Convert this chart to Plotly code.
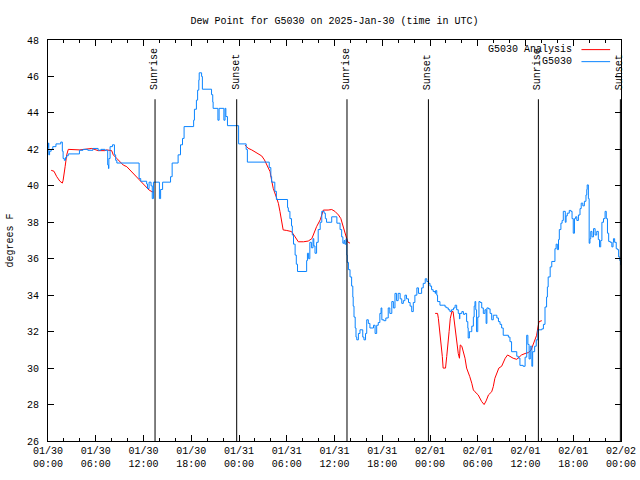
import pandas as pd
import plotly.graph_objects as go

# ---------------- data ----------------
START = "2025-01-30 00:00"

# Observed dew point (G5030), hours since start / degrees F
obs_hours = [0.0, 0.05, 0.1, 0.2, 0.4, 0.6, 1.0, 1.4, 1.6, 1.8, 1.9, 2.05, 2.2, 2.35, 2.55,
             3.95, 4.4, 5.0, 5.65, 6.3, 6.65, 7.15, 7.5, 7.6, 7.65, 7.8, 8.1, 8.35, 8.5, 8.65,
             11.45, 11.65, 12.4, 12.5, 12.7, 12.95, 13.1, 13.25, 14.0, 14.15, 14.4, 15.4, 15.6,
             16.35, 16.65, 16.9, 17.1, 18.3, 18.4, 18.65, 18.8, 18.95, 19.0, 19.3, 19.4,
             20.55, 20.7, 20.75, 21.35, 21.5, 22.1, 22.25, 22.35, 22.55, 23.95, 24.9, 25.05,
             27.8, 28.0, 28.1, 28.5, 28.7, 30.1, 30.2, 30.4, 30.6, 30.7, 30.85, 31.05, 31.2, 31.35,
             32.5, 32.6, 32.75, 32.9, 33.1, 33.3, 33.4, 33.55, 33.75, 33.95, 34.2, 34.4, 34.7,
             34.85, 35.0, 35.65, 36.3, 36.7, 36.9, 37.05, 37.2, 37.3, 37.45, 37.55, 37.6, 37.75,
             37.95, 38.15, 38.3, 38.35, 38.45, 38.6, 38.7, 38.8, 39.0, 39.2, 39.55, 39.7, 39.9,
             40.05, 40.25, 40.45, 40.9, 41.1, 41.3, 41.5, 41.7, 41.85, 41.95, 42.2, 42.45, 42.75,
             42.95, 43.2, 43.4, 43.6, 43.8, 44.0, 44.25, 44.45, 44.65, 44.85, 45.05, 45.3, 45.5,
             45.7, 45.9, 46.1, 46.35, 46.55, 46.75, 46.95, 47.15, 47.4, 47.6, 47.8, 48.0, 48.2,
             48.4, 48.65, 48.7, 48.85, 48.95, 49.25, 49.65, 49.9, 50.1, 50.3, 50.5, 50.7, 50.95,
             51.15, 51.35, 51.55, 51.7, 51.75, 52.0, 52.2, 52.4, 52.6, 52.75, 52.8, 52.95, 53.1,
             53.25, 53.45, 53.55, 53.65, 53.75, 53.85, 54.0, 54.15, 54.3, 54.5, 54.7, 54.9, 55.05,
             55.15, 55.35, 55.55, 55.75, 55.95, 56.2, 56.4, 56.6, 56.8, 57.0, 57.2, 57.85, 58.05,
             58.25, 58.9, 59.1, 59.3, 59.7, 59.95, 60.15, 60.3, 60.45, 60.6, 60.8, 60.9, 61.15,
             61.35, 61.55, 62.05, 62.25, 62.45, 62.65, 62.75, 62.85, 63.1, 63.3, 63.7, 63.85,
             64.0, 64.15, 64.25, 64.45, 64.6, 64.75, 65.0, 65.1, 65.25, 65.5, 65.7, 65.85, 66.0,
             66.15, 66.3, 66.45, 66.65, 66.85, 67.0, 67.2, 67.4, 67.6, 67.7, 67.75, 67.9, 68.0,
             68.1, 68.2, 68.35, 68.55, 68.75, 68.95, 69.15, 69.3, 69.45, 69.6, 69.8, 70.0, 70.15,
             70.3, 70.45, 70.65, 70.85, 71.0, 71.05, 71.2, 71.4, 71.55, 71.7, 71.85, 71.95]
obs_values = [42.1, 42.35, 41.7, 41.9, 42.0, 42.15, 42.3, 42.3, 42.4, 41.9, 41.5, 41.4, 41.55, 41.65, 41.75,
              41.95, 42.0, 41.95, 42.05, 41.95, 42.0, 41.95, 41.15, 40.95, 41.5, 42.15, 42.25, 41.7, 41.4, 41.25,
              40.4, 40.25, 40.1, 39.85, 40.2, 40.0, 39.3, 40.2, 39.3, 39.8, 40.2, 40.5, 41.25,
              41.7, 42.25, 42.6, 43.25, 43.6, 44.2, 44.7, 45.25, 45.8, 46.2, 46.0, 45.3,
              45.0, 44.6, 44.25, 43.6, 44.25, 43.6, 44.25, 43.8, 43.3, 42.3, 42.0, 41.3,
              41.0, 40.5, 40.2, 39.7, 39.25, 38.8, 38.6, 38.2, 37.8, 37.3, 36.8, 36.2, 35.7, 35.3,
              35.9, 36.3, 36.0, 36.9, 36.6, 37.1, 36.7, 36.3, 36.9, 37.6, 38.0, 38.6, 38.5,
              38.2, 38.0, 38.3, 37.95, 37.6, 37.2, 36.85, 37.0, 36.8, 37.1, 36.2, 35.8, 35.4,
              35.0, 34.5, 33.9, 33.4, 32.8, 32.2, 31.7, 31.55, 31.9, 32.1, 31.7, 31.55, 31.9,
              32.65, 32.45, 32.2, 32.35, 31.9, 32.35, 32.5, 33.0, 33.3, 32.65, 32.6, 32.75, 33.3,
              33.0, 33.65, 33.3, 34.1, 33.7, 34.1, 33.8, 33.55, 33.7, 34.0, 33.8, 33.6, 33.4,
              33.1, 33.6, 34.0, 34.4, 34.1, 34.1, 34.4, 34.65, 34.9, 34.75, 34.65, 34.5, 34.3,
              34.2, 34.1, 34.25, 34.0, 33.65, 33.45, 33.45, 33.35, 33.3, 33.2, 33.1, 33.2, 33.3,
              33.45, 33.2, 33.0, 32.7, 33.0, 33.1, 32.95, 33.0, 32.55, 32.2, 31.65, 32.0, 32.0,
              32.3, 32.8, 33.4, 33.65, 33.2, 32.0, 32.8, 33.65, 33.6, 33.3, 33.0, 33.2, 32.45,
              33.3, 33.25, 33.0, 32.65, 32.9, 32.9, 32.75, 32.55, 32.4, 32.2, 31.8, 31.7, 31.45,
              30.9, 30.65, 30.55, 30.15, 30.1, 30.6, 31.8, 31.3, 30.5, 31.2, 30.1, 30.9, 31.2,
              31.55, 32.1, 32.15, 32.4, 33.35, 33.9, 34.45, 35.0, 35.55, 35.85, 36.55, 36.8,
              36.5, 37.05, 37.6, 37.95, 38.1, 38.6, 38.0, 38.35, 38.5, 38.65, 38.6, 38.2, 37.4,
              38.2, 38.3, 38.1, 38.4, 38.75, 39.05, 38.9, 39.15, 39.5, 39.8, 40.05, 39.3, 36.85,
              37.1, 37.5, 37.2, 37.65, 37.3, 37.5, 37.05, 36.65, 37.0, 38.0, 38.2, 38.6, 38.2,
              37.4, 36.95, 36.9, 36.65, 36.9, 37.1, 36.9, 36.55, 36.5, 36.1, 35.9, 35.65, 36.0]

# Analysis dew point (G5030 Analysis); None marks gaps between runs
ana_hours = [0.4, 0.75, 1.1, 1.5, 1.8, 1.9, 2.15, 2.35, 2.55, 4.0, 5.5, 6.3, 7.15, 7.35, 8.0, 8.2,
             8.65, 9.05, 9.45, 9.9, 10.3, 10.7, 11.15, 11.55, 12.0, 12.4, 12.7, 13.05, 13.3,
             18.0,
             24.75, 25.15, 25.6, 26.0, 26.45, 26.85, 27.2, 27.5, 27.9, 28.1, 28.3, 28.75, 28.95,
             29.15, 29.35, 29.55, 30.0, 30.6, 31.05, 31.45, 32.1, 32.7, 33.15, 33.55, 33.75, 34.2,
             34.45, 34.6, 35.2, 35.65, 36.05, 36.5, 36.8, 37.05, 37.25, 37.45, 37.65, 37.95,
             43.0,
             48.65, 48.95, 49.05, 49.25, 49.4, 49.55, 49.65, 49.95, 50.1, 50.25, 50.4, 50.55,
             50.75, 50.9, 51.05, 51.25, 51.35, 51.55, 51.7, 51.8, 52.0, 52.2, 52.4, 52.6, 52.8,
             53.0, 53.25, 53.45, 53.65, 54.05, 54.5, 54.8, 55.05, 55.35, 55.75, 55.95, 56.15,
             56.4, 56.65, 57.0, 57.2, 57.45, 57.75, 58.05, 58.45, 58.9, 59.2, 59.5, 59.95, 60.35,
             60.7, 61.0, 61.2, 61.4, 61.55, 61.7, 62.05]
ana_values = [40.85, 40.8, 40.5, 40.25, 40.15, 40.3, 41.05, 41.7, 42.0, 41.97, 42.05, 41.93, 41.93,
              41.97, 41.93, 41.7, 41.5, 41.32, 41.14, 41.05, 40.87, 40.7, 40.5, 40.3, 40.14, 39.95,
              39.77, 39.68, 39.65,
              None,
              42.24, 42.06, 41.97, 41.87, 41.75, 41.64, 41.42, 41.14, 40.78, 40.3, 39.86, 39.3,
              39.04, 38.58, 38.13, 37.58, 37.55, 37.49, 37.2, 36.93, 36.93, 36.97, 37.1, 37.58,
              37.76, 38.13, 38.5, 38.67, 38.67, 38.7, 38.6, 38.4, 38.2, 37.85, 37.5, 37.2, 36.93,
              36.85,
              None,
              33.0, 33.0, 32.73, 32.0, 31.18, 30.63, 30.0, 30.0, 30.63, 31.2, 32.0, 32.73, 33.1,
              33.1, 32.55, 32.0, 31.36, 30.8, 30.54, 31.27, 31.2, 30.9, 30.54, 30.0, 29.8, 29.53,
              29.17, 28.8, 28.7, 28.53, 28.16, 28.0, 28.2, 28.53, 28.7, 28.98, 29.44, 29.72, 30.0,
              30.1, 30.35, 30.54, 30.72, 30.63, 30.54, 30.48, 30.6, 30.72, 30.8, 30.85, 30.99,
              31.36, 31.55, 31.8, 32.2, 32.55, 32.6]

# Sun events (hours since start)
sun_hours = [13.45, 23.71, 37.57, 47.8, 61.62, 71.92]
sun_labels = ["Sunrise", "Sunset", "Sunrise", "Sunset", "Sunrise", "Sunset"]

series_names = ["G5030 Analysis", "G5030"]
series_colors = ["#ff0000", "#0a84ff"]

# ---------------- figure ----------------
base = pd.Timestamp(START)
def to_time(hours):
    return [None if h is None else base + pd.Timedelta(hours=h) for h in hours]

FONT = "Liberation Mono"
fig = go.Figure()
fig.add_trace(go.Scatter(x=to_time(ana_hours), y=ana_values, mode="lines",
                         name=series_names[0], connectgaps=False,
                         line=dict(color=series_colors[0], width=1)))
fig.add_trace(go.Scatter(x=to_time(obs_hours), y=obs_values, mode="lines",
                         name=series_names[1], line_shape="hv",
                         line=dict(color=series_colors[1], width=1)))

for t, lab in zip(to_time(sun_hours), sun_labels):
    fig.add_shape(type="line", xref="x", yref="y", x0=t, x1=t, y0=26, y1=44.75,
                  line=dict(color="black", width=1))
    fig.add_annotation(x=t, y=45.15, xref="x", yref="y", text=lab, textangle=-90,
                       showarrow=False, xanchor="center", yanchor="bottom",
                       font=dict(family=FONT, size=10, color="black"))

# gnuplot-style legend: text right-aligned, sample line to the right
leg_rows = [0.976, 0.946]
for name, col, yy in zip(series_names, series_colors, leg_rows):
    fig.add_annotation(x=0.918, y=yy, xref="paper", yref="paper", text=name,
                       showarrow=False, xanchor="right", yanchor="middle",
                       font=dict(family=FONT, size=10, color="black"))
    fig.add_shape(type="line", xref="paper", yref="paper", x0=0.931, x1=0.981,
                  y0=yy, y1=yy, line=dict(color=col, width=1))

# y-axis title placed like gnuplot (far left of the canvas)
fig.add_annotation(x=(10 - 48) / 573, y=0.5, xref="paper", yref="paper", text="degrees F",
                   textangle=-90, showarrow=False, xanchor="center", yanchor="middle",
                   font=dict(family=FONT, size=10, color="black"))

fig.update_layout(
    width=640, height=480,
    margin=dict(l=48, r=19, t=40, b=39, autoexpand=False),
    paper_bgcolor="white", plot_bgcolor="white",
    showlegend=False,
    font=dict(family=FONT, size=10, color="black"),
    title=dict(text="Dew Point for G5030 on 2025-Jan-30 (time in UTC)",
               x=0.5, xref="paper", y=1 - 20 / 480, yref="container",
               xanchor="center", yanchor="middle",
               font=dict(family=FONT, size=10, color="black")),
)
fig.update_xaxes(
    type="date", automargin=False,
    range=[base, base + pd.Timedelta(hours=72)],
    tick0=base, dtick=6 * 3600 * 1000, tickformat="%m/%d<br>%H:%M",
    ticks="inside", ticklen=6, tickcolor="black", mirror="allticks",
    showline=True, linecolor="black", linewidth=1, showgrid=False, zeroline=False,
    minor=dict(ticks="inside", dtick=2 * 3600 * 1000, ticklen=3, tickcolor="black", showgrid=False),
    tickfont=dict(family=FONT, size=10, color="black"),
)
fig.update_yaxes(
    automargin=False,
    range=[26, 48], dtick=2, tick0=26,
    ticks="inside", ticklen=6, tickcolor="black", mirror="allticks",
    showline=True, linecolor="black", linewidth=1, showgrid=False, zeroline=False,
    ticklabelstandoff=6,
    tickfont=dict(family=FONT, size=10, color="black"),
)

fig.write_html("out.html", config={"displayModeBar": False},
               post_script="document.body.style.margin='0';document.body.style.padding='0';")
